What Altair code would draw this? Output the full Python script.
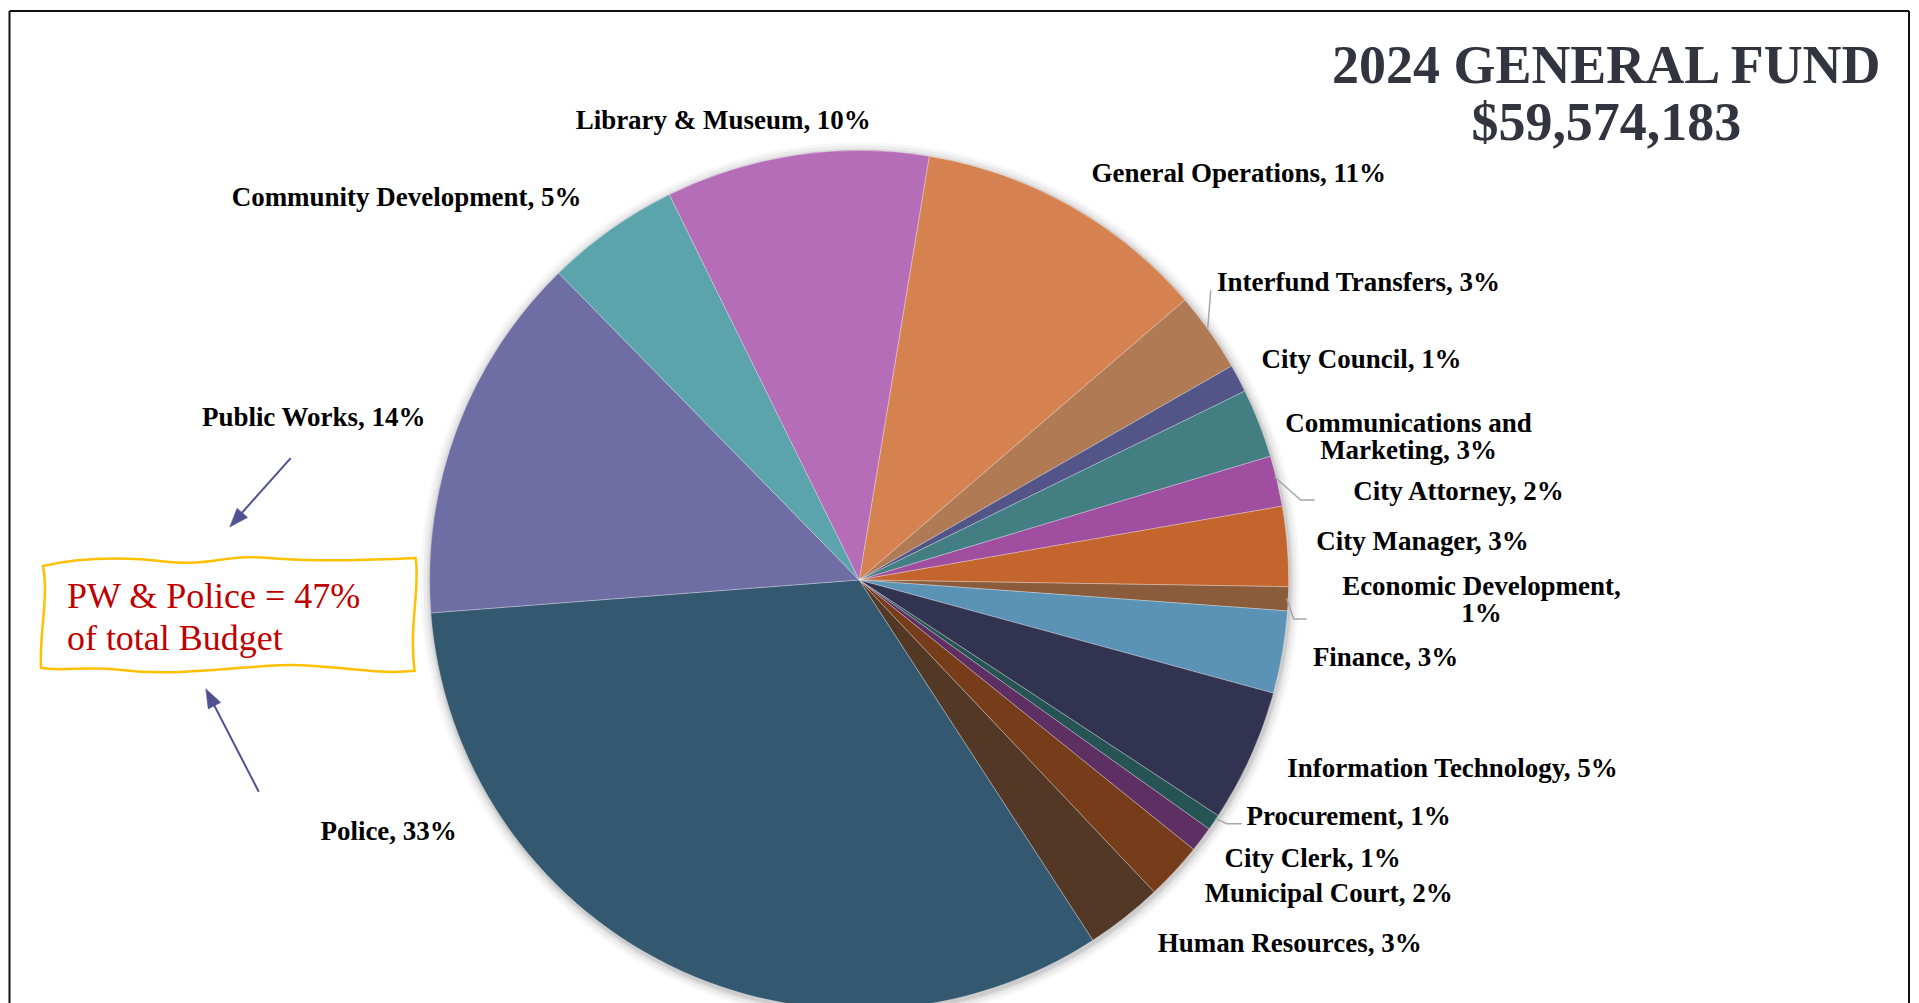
import math
import altair as alt

# ---------------- data ----------------
departments = [
    "General Operations", "Interfund Transfers", "City Council",
    "Communications and Marketing", "City Attorney", "City Manager",
    "Economic Development", "Finance", "Information Technology",
    "Procurement", "City Clerk", "Municipal Court", "Human Resources",
    "Police", "Public Works", "Community Development", "Library & Museum",
]
shares = [11.1, 3.0, 1.05, 2.6, 1.9, 3.0, 0.9, 3.1, 5.0,
          0.6, 0.95, 2.15, 2.9, 32.95, 13.9, 5.05, 9.9]
title_lines = ["2024 GENERAL FUND", "$59,574,183"]
note_lines = ["PW & Police = 47%", "of total Budget"]

# ---------------- style / layout ----------------
colors = ["#D68150", "#B07A55", "#535488", "#437F82", "#A04FA0", "#C4652D",
          "#8B5C3C", "#5A93B6", "#323251", "#265353", "#5E2F63", "#773D1A",
          "#533826", "#335870", "#6F6EA4", "#5BA4AC", "#B66DB7"]
W, H = 1905, 996
CX, CY, R = 852, 572, 430
START = math.radians(9.4)
FONT = "Liberation Serif"

label_pos = {
    "General Operations": (1232, 166),
    "Interfund Transfers": (1352, 275),
    "City Council": (1355, 352),
    "Communications and Marketing": (1402, 416),
    "City Attorney": (1452, 484),
    "City Manager": (1416, 534),
    "Economic Development": (1475, 579),
    "Finance": (1379, 650),
    "Information Technology": (1446, 761),
    "Procurement": (1342, 809),
    "City Clerk": (1306, 851),
    "Municipal Court": (1322, 886),
    "Human Resources": (1283, 936),
    "Police": (381, 824),
    "Public Works": (306, 410),
    "Community Development": (399, 190),
    "Library & Museum": (716, 113),
}
wrap_first = {
    "Communications and Marketing": "Communications and",
    "Economic Development": "Economic Development,",
}
leaders = {
    "Interfund Transfers": [(1204, 282), (1201, 320)],
    "City Attorney": [(1268, 469), (1294, 492), (1308, 492)],
    "Economic Development": [(1280, 590), (1287, 611), (1300, 611)],
    "Procurement": [(1209, 811), (1220, 816), (1235, 816)],
}

total = sum(shares)
pie_rows = [{"idx": i, "dept": d, "share": s}
            for i, (d, s) in enumerate(zip(departments, shares))]

label_rows = []
for d, s in zip(departments, shares):
    txt = f"{d}, {round(s / total * 100)}%"
    if d in wrap_first:
        first = wrap_first[d]
        lines = [first, txt[len(first):].strip()]
    else:
        lines = [txt]
    x, y = label_pos[d]
    label_rows.append({"dept": d, "lines": lines, "lx": x, "ly": y})

leader_rows = []
for d, pts in leaders.items():
    for k, (x, y) in enumerate(pts):
        leader_rows.append({"grp": d, "seq": k, "px": x, "py": y})

frame_rows = [
    {"x": 1.5, "y": 2.5, "x2": 1.5, "y2": H},
    {"x": 1.5, "y": 2.5, "x2": W - 2, "y2": 2.5},
    {"x": W - 2, "y": 2.5, "x2": W - 2, "y2": H},
]
arrow_rows = [
    {"x": 283, "y": 450, "x2": 226, "y2": 514},
    {"x": 251, "y": 784, "x2": 202, "y2": 689},
]
arrow_tips = [{"x": 222, "y": 519, "ang": 221.5}, {"x": 198, "y": 681, "ang": 332.8}]


def px(f):
    return alt.X(f, scale=None, axis=None)


def py(f):
    return alt.Y(f, scale=None, axis=None)


frame = alt.Chart(alt.Data(values=frame_rows)).mark_rule(
    color="#111111", strokeWidth=2
).encode(x=px("x:Q"), y=py("y:Q"), x2="x2:Q", y2="y2:Q")

shadow_layers = []
for rr, op in [(440, 0.03), (437, 0.045), (434, 0.06), (432, 0.08)]:
    shadow_layers.append(
        alt.Chart(alt.Data(values=[{"a": 1}])).mark_arc(
            theta=0, theta2=2 * math.pi, outerRadius=rr, color="#000000",
            opacity=op, clip=True
        ).encode(x=alt.value(CX + 1), y=alt.value(CY + 2))
    )

pie = alt.Chart(alt.Data(values=pie_rows)).mark_arc(
    outerRadius=R, stroke="#ffffff", strokeWidth=0.6, strokeOpacity=0.5, clip=True
).encode(
    theta=alt.Theta("share:Q", stack=True,
                    scale=alt.Scale(range=[START, START + 2 * math.pi])),
    order=alt.Order("idx:Q"),
    color=alt.Color("dept:N", scale=alt.Scale(domain=departments, range=colors),
                    legend=None),
    x=alt.value(CX), y=alt.value(CY),
)

leader = alt.Chart(alt.Data(values=leader_rows)).mark_line(
    color="#A6A6A6", strokeWidth=1.5
).encode(x=px("px:Q"), y=py("py:Q"), detail="grp:N", order="seq:Q")

labels = alt.Chart(alt.Data(values=label_rows)).mark_text(
    font=FONT, fontSize=27, fontWeight="bold", color="#000000",
    align="center", baseline="middle", lineHeight=27
).encode(x=px("lx:Q"), y=py("ly:Q"), text="lines:N")

title = alt.Chart(alt.Data(values=[
    {"t": title_lines[0], "y": 75}, {"t": title_lines[1], "y": 132}
])).mark_text(
    font=FONT, fontSize=54, fontWeight="bold", color="#323440",
    align="center", baseline="alphabetic"
).encode(x=alt.value(1600), y=py("y:Q"), text="t:N")

box_path = ("M -186 -50 C -150 -58, -110 -60, -60 -54 C -20 -50, 0 -62, 40 -58 "
            "C 90 -54, 140 -56, 187 -58 C 192 -30, 180 10, 186 55 "
            "C 140 60, 100 46, 40 50 C -20 54, -60 60, -110 54 "
            "C -140 50, -170 56, -188 52 C -190 20, -180 -20, -186 -50 Z")
box = alt.Chart(alt.Data(values=[{"bx": 221, "by": 608}])).mark_point(
    shape=box_path, size=4, filled=False, stroke="#FFC000", strokeWidth=2.5,
    opacity=1
).encode(x=px("bx:Q"), y=py("by:Q"))

note = alt.Chart(alt.Data(values=[
    {"t": note_lines[0], "y": 600}, {"t": note_lines[1], "y": 642}
])).mark_text(
    font=FONT, fontSize=36, color="#C00000", align="left", baseline="alphabetic"
).encode(x=alt.value(59), y=py("y:Q"), text="t:N")

arrows = alt.Chart(alt.Data(values=arrow_rows)).mark_rule(
    color="#4F5290", strokeWidth=2
).encode(x=px("x:Q"), y=py("y:Q"), x2="x2:Q", y2="y2:Q")

heads = alt.Chart(alt.Data(values=arrow_tips)).mark_point(
    shape="M 0 0 L 7 19 L -7 19 Z", size=4, filled=True, fill="#4F5290",
    stroke="#4F5290", strokeWidth=0.5, opacity=1
).encode(x=px("x:Q"), y=py("y:Q"), angle=alt.Angle("ang:Q", scale=None))

chart = alt.layer(
    *shadow_layers, pie, leader, labels, title, box, note, arrows, heads, frame
).properties(
    width=W, height=H, padding=0, autosize=alt.AutoSizeParams(type="none"),
    background="#ffffff"
).configure_view(stroke=None)

chart.save("out.html", embed_options={"renderer": "svg", "actions": False})
